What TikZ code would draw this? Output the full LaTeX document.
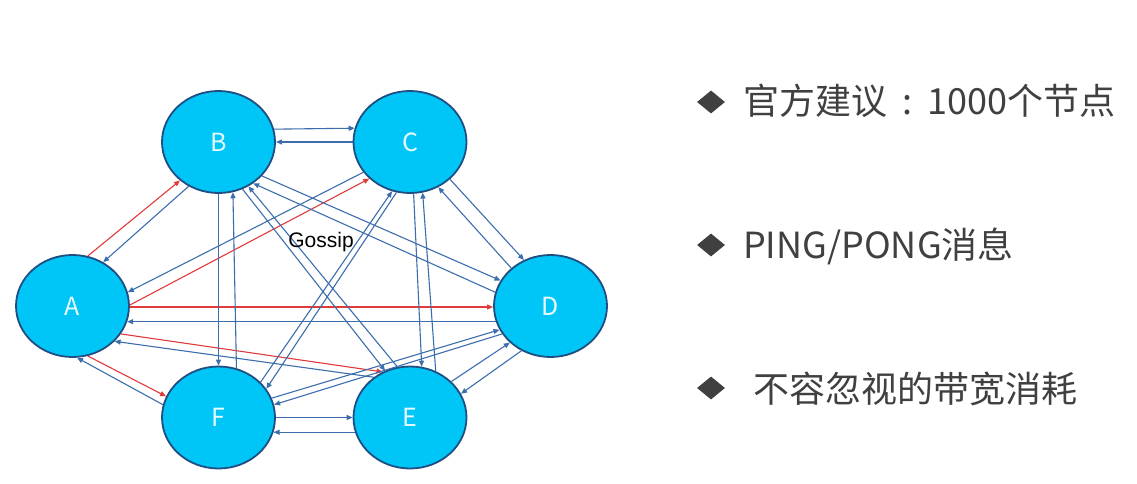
\documentclass[tikz,border=0pt]{standalone}
\usepackage{fontspec}
\newfontfamily\cjk{Noto Sans CJK SC}
\newfontfamily\lib{Liberation Sans}
\usetikzlibrary{shapes.geometric,arrows.meta}
\definecolor{ndfill}{HTML}{00C6F8}
\definecolor{ndborder}{HTML}{1E4E82}
\definecolor{arblue}{HTML}{3C6EAE}
\definecolor{arred}{HTML}{E03A3A}
\definecolor{ndtext}{HTML}{E6FAFF}
\definecolor{txtgray}{HTML}{404040}
\tikzset{
  nd/.style={ellipse, draw=ndborder, line width=1.8pt, fill=ndfill,
    minimum width=113pt, minimum height=102pt, inner sep=0pt,
    text=ndtext, font=\cjk\fontsize{25}{27}\selectfont},
  bl/.style={draw=arblue, line width=1.1pt, -{Triangle[length=6pt,width=5pt]}},
  rd/.style={draw=arred, line width=1.1pt, -{Triangle[length=6pt,width=5pt]}},
  bullet/.style={diamond, fill=txtgray, draw=none, inner sep=0pt,
    minimum width=28pt, minimum height=23pt},
  item/.style={anchor=west, inner sep=0pt, text=txtgray,
    font=\cjk\fontsize{36}{40}\selectfont}
}
\begin{document}
\begin{tikzpicture}[x=1pt,y=-1pt]
\useasboundingbox[fill=white] (0,0) rectangle (1137,484);
\node[nd] (A) at (72.5,306) {A};
\node[nd] (B) at (218.5,142) {B};
\node[nd] (C) at (410,142) {C};
\node[nd] (D) at (550.5,306) {D};
\node[nd] (E) at (410,417.5) {E};
\node[nd] (F) at (218.5,417.5) {F};
% A pairs
\draw[rd] (A.73) -- (B.225);
\draw[bl] (B.236) -- (A.55);
\draw[rd] (A.1) -- (C.222);
\draw[bl] (C.213) -- (A.14);
\draw[rd] (A.-1) -- (D.181);
\draw[bl] (D.196.6) -- (A.-16.6);
\draw[rd] (A.-30) -- (E.121);
\draw[bl] (E.132) -- (A.-40);
\draw[rd] (A.-73) -- (F.158);
\draw[bl] (F.167) -- (A.-85);
% B pairs
\draw[bl] (B.13.4) -- (C.166.6);
\draw[bl] (C.180) -- (B.0);
\draw[bl] (B.-90) -- (F.90);
\draw[bl] (F.70.5) -- (B.-74.7);
\draw[bl] (B.-38) -- (D.153);
\draw[bl] (D.166) -- (B.-50);
\draw[bl] (B.-63) -- (E.118.7);
\draw[bl] (E.104.7) -- (B.-56);
% C pairs
\draw[bl] (C.-86.6) -- (E.77.7);
\draw[bl] (E.61.3) -- (C.-76.5);
\draw[bl] (C.-43) -- (D.120);
\draw[bl] (D.136) -- (C.-58.7);
\draw[bl] (C.255.3) -- (F.31.6);
\draw[bl] (F.40.5) -- (C.250.2);
% D, E, F pairs
\draw[bl] (E.41.8) -- (D.222.5);
\draw[bl] (D.237.3) -- (E.25.2);
\draw[bl] (F.0) -- (E.180);
\draw[bl] (E.195) -- (F.-15);
\draw[bl] (F.20) -- (D.205);
\draw[bl] (D.210.6) -- (F.13.4);
\node[font=\lib\fontsize{21}{23}\selectfont, inner sep=0pt] (gossip) at (321,242) {Gossip};
% right list
\node[bullet] (b1) at (711,102) {};
\node[bullet] (b2) at (711,245) {};
\node[bullet] (b3) at (711,388) {};
\node[item] (t1) at (743,101) {官方建议\makebox[40pt][c]{:}1000个节点};
\node[item] (t2) at (743,246) {PING/PONG消息};
\node[item] (t3) at (753,389) {不容忽视的带宽消耗};
\end{tikzpicture}
\end{document}
